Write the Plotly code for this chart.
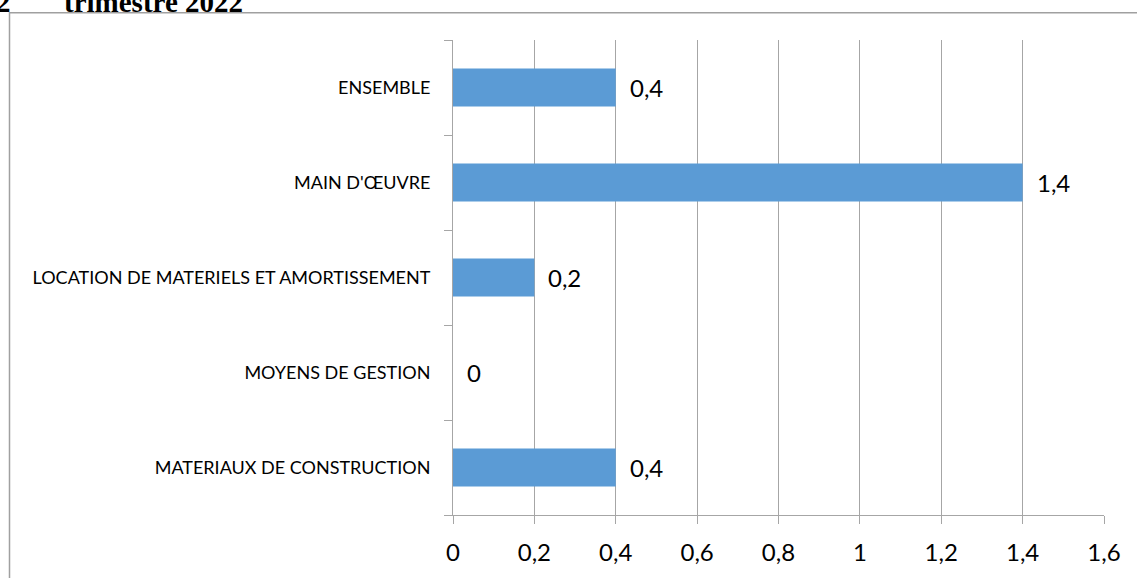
import plotly.graph_objects as go

categories = ["MATERIAUX DE CONSTRUCTION", "MOYENS DE GESTION",
              "LOCATION DE MATERIELS ET AMORTISSEMENT", "MAIN D'ŒUVRE", "ENSEMBLE"]
values = [0.4, 0.0, 0.2, 1.4, 0.4]
tick_values = [0, 0.2, 0.4, 0.6, 0.8, 1.0, 1.2, 1.4, 1.6]
title_num = "2"
title_text = "trimestre 2022"

W, H = 1137, 578
L, R, T, B = 453, 33, 40, 58
pw, ph = W - L - R, H - T - B

def px_x(p):
    return (p - L) / pw

def px_y(p):
    return 1 - (p - T) / ph

SANS = "Lato, Open Sans, sans-serif"
SERIF = "Liberation Serif, Times New Roman, serif"

fig = go.Figure()
fig.add_trace(go.Bar(
    y=categories, x=values, orientation="h",
    marker=dict(color="#5b9bd5", line=dict(width=0)),
    hoverinfo="skip",
))

annotations = []
for c, v in zip(categories, values):
    annotations.append(dict(
        x=v, y=c, xref="x", yref="y", text=f"{v:g}".replace(".", ","),
        showarrow=False, xanchor="left", yanchor="middle", xshift=12,
        font=dict(family=SANS, size=24, color="#000000"),
    ))
annotations.append(dict(
    x=px_x(-6), y=px_y(19.5), xref="paper", yref="paper", text="<b>" + title_num + "</b>",
    showarrow=False, xanchor="left", yanchor="bottom",
    font=dict(family=SERIF, size=29, color="#000000"),
))
annotations.append(dict(
    x=px_x(62), y=px_y(19.5), xref="paper", yref="paper", text="<b>" + title_text + "</b>",
    showarrow=False, xanchor="left", yanchor="bottom",
    font=dict(family=SERIF, size=29, color="#000000"),
))

fig.update_layout(
    width=W, height=H,
    margin=dict(l=L, r=R, t=T, b=B, pad=0),
    paper_bgcolor="white", plot_bgcolor="white",
    separators=", ",
    bargap=0.6,
    showlegend=False,
    annotations=annotations,
    shapes=[dict(type="rect", xref="paper", yref="paper",
                 x0=px_x(9.5), x1=px_x(W + 20), y0=px_y(H + 20), y1=px_y(12.5),
                 line=dict(color="#a0a0a0", width=1.5), fillcolor="rgba(0,0,0,0)",
                 layer="below")],
    xaxis=dict(
        range=[0, 1.6], tickvals=tick_values, showgrid=True, gridcolor="#a6a6a6", gridwidth=1,
        showline=True, linecolor="#a6a6a6", linewidth=1,
        ticks="outside", ticklen=8, tickcolor="#a6a6a6", ticklabelstandoff=8,
        tickfont=dict(family=SANS, size=24, color="#000000"),
        zeroline=False, fixedrange=True,
    ),
    yaxis=dict(
        type="category", categoryorder="array", categoryarray=categories,
        showgrid=False, showline=True, linecolor="#a6a6a6", linewidth=1,
        ticks="outside", ticklen=8, tickcolor="#a6a6a6", tickson="boundaries",
        ticklabelstandoff=18,
        tickfont=dict(family=SANS, size=18, color="#000000"),
        zeroline=False, fixedrange=True,
    ),
)

fig.write_html("out.html", config={"displayModeBar": False, "staticPlot": True},
               post_script="document.body.style.margin='0';document.body.style.overflow='hidden';")
